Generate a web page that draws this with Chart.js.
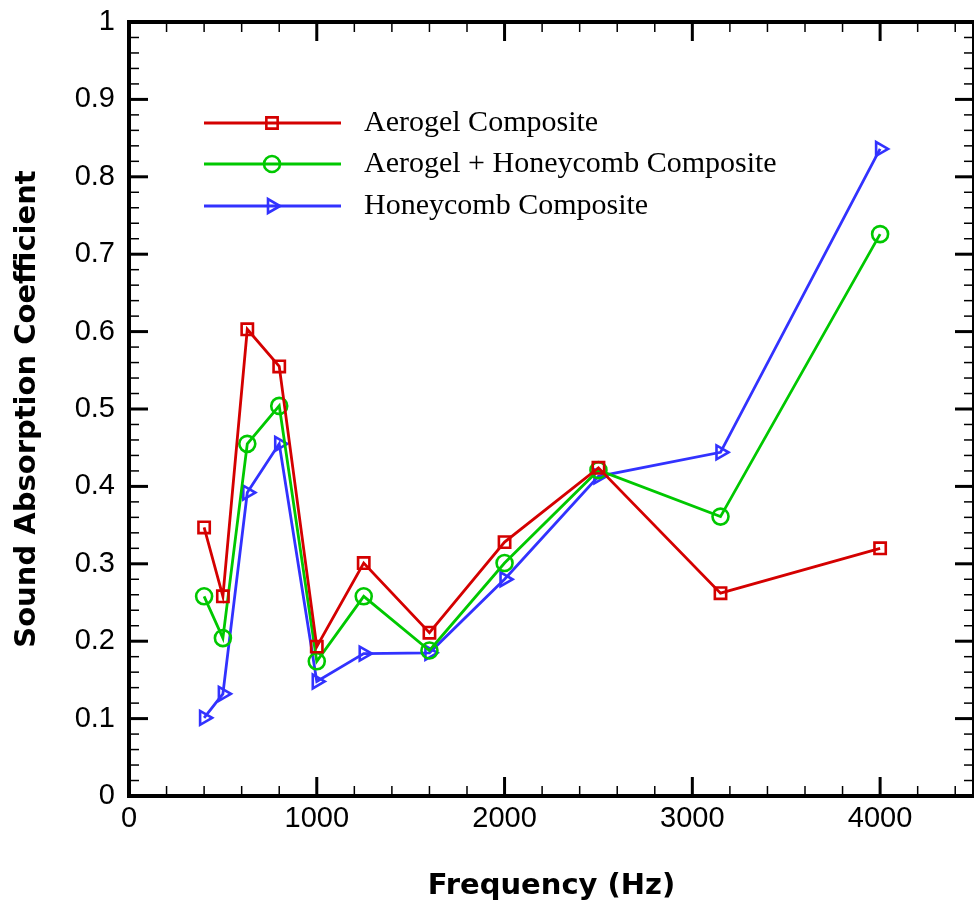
<!DOCTYPE html>
<html>
<head>
<meta charset="utf-8">
<title>Sound Absorption Coefficient</title>
<script src="https://cdn.jsdelivr.net/npm/chart.js@4.4.1/dist/chart.umd.min.js"></script>
<style>
  html, body { margin: 0; padding: 0; background: #fff; }
  canvas { display: block; }
</style>
</head>
<body>
<canvas id="myChart" width="974" height="909"></canvas>
<script>
  // one-third octave band centres (Hz)
  const frequencies = [400, 500, 630, 800, 1000, 1250, 1600, 2000, 2500, 3150, 4000];

  const aerogel   = [0.347, 0.258, 0.603, 0.555, 0.193, 0.301, 0.211, 0.328, 0.424, 0.262, 0.320];
  const combined  = [0.258, 0.204, 0.455, 0.504, 0.174, 0.258, 0.188, 0.301, 0.421, 0.361, 0.726];
  const honeycomb = [0.101, 0.132, 0.392, 0.455, 0.148, 0.184, 0.185, 0.280, 0.413, 0.444, 0.836];

  const seriesNames = ['Aerogel Composite', 'Aerogel + Honeycomb Composite', 'Honeycomb Composite'];

  const xTickValues = [0, 1000, 2000, 3000, 4000];
  const yTickValues = [0, 0.1, 0.2, 0.3, 0.4, 0.5, 0.6, 0.7, 0.8, 0.9, 1];

  const xMax = 4500, xMajor = 1000, xMinor = 200;
  const yMax = 1, yMajor = 0.1, yMinor = 0.02;

  function toPoints(values) {
    return frequencies.map((f, i) => ({ x: f, y: values[i] }));
  }

  function series(label, values, color, style, rotation) {
    return {
      label: label,
      data: toPoints(values),
      borderColor: color,
      backgroundColor: 'rgba(0,0,0,0)',
      borderWidth: 2.8,
      pointStyle: style,
      pointRotation: rotation,
      pointRadius: 8,
      pointBorderWidth: 2.6,
      pointBackgroundColor: 'rgba(0,0,0,0)',
      tension: 0
    };
  }

  // boxed frame with inward ticks on all four sides
  const frame = {
    id: 'frame',
    beforeDatasetsDraw(chart) {
      const { ctx, chartArea: a, scales: { x, y } } = chart;
      ctx.save();
      ctx.strokeStyle = '#000';
      ctx.lineCap = 'butt';

      const tick = (x1, y1, x2, y2, w) => {
        ctx.lineWidth = w;
        ctx.beginPath();
        ctx.moveTo(x1, y1);
        ctx.lineTo(x2, y2);
        ctx.stroke();
      };

      for (let v = xMinor; v < xMax; v += xMinor) {
        const px = x.getPixelForValue(v);
        const major = v % xMajor === 0;
        const len = major ? 19 : 10;
        const w = major ? 3 : 1.5;
        tick(px, a.bottom, px, a.bottom - len, w);
        tick(px, a.top, px, a.top + len, w);
      }
      const perMajor = Math.round(yMajor / yMinor);
      for (let k = 1; k < Math.round(yMax / yMinor); k++) {
        const py = y.getPixelForValue(k * yMinor);
        const major = k % perMajor === 0;
        const len = major ? 19 : 10;
        const w = major ? 3 : 1.5;
        tick(a.left, py, a.left + len, py, w);
        tick(a.right, py, a.right - len, py, w);
      }

      ctx.lineWidth = 4;
      ctx.strokeRect(a.left, a.top, a.right - a.left, a.bottom - a.top);
      ctx.restore();
    }
  };

  // legend box drawn inside the plot, upper left
  const insideLegend = {
    id: 'insideLegend',
    afterDraw(chart) {
      const { ctx } = chart;
      const rows = [123, 164, 206];
      ctx.save();
      chart.data.datasets.forEach((ds, i) => {
        const yy = rows[i];
        ctx.strokeStyle = ds.borderColor;
        ctx.lineWidth = ds.borderWidth;
        ctx.beginPath();
        ctx.moveTo(204, yy);
        ctx.lineTo(341, yy);
        ctx.stroke();

        ctx.fillStyle = 'rgba(0,0,0,0)';
        ctx.lineWidth = ds.pointBorderWidth;
        Chart.helpers.drawPoint(ctx, {
          pointStyle: ds.pointStyle,
          rotation: ds.pointRotation,
          radius: ds.pointRadius,
          borderWidth: ds.pointBorderWidth
        }, 272, yy);

        ctx.fillStyle = '#000';
        ctx.font = '30px "Liberation Serif", "Times New Roman", serif';
        ctx.textAlign = 'left';
        ctx.textBaseline = 'middle';
        ctx.fillText(ds.label, 364, yy);
      });
      ctx.restore();
    }
  };

  const tickFont = { family: '"Liberation Sans", Arial, sans-serif', size: 29 };
  const titleFont = { family: '"DejaVu Sans", sans-serif', size: 29, weight: 'bold' };

  const ctx = document.getElementById('myChart').getContext('2d');
  new Chart(ctx, {
    type: 'line',
    data: {
      datasets: [
        series(seriesNames[0], aerogel, '#d40000', 'rect', 0),
        series(seriesNames[1], combined, '#00c800', 'circle', 0),
        series(seriesNames[2], honeycomb, '#3232ff', 'triangle', 90)
      ]
    },
    options: {
      responsive: false,
      animation: false,
      devicePixelRatio: 1,
      layout: { autoPadding: false, padding: { top: 22, right: -2, bottom: 0, left: 0 } },
      plugins: {
        legend: { display: false },
        tooltip: { enabled: false }
      },
      scales: {
        x: {
          type: 'linear',
          min: 0,
          max: xMax,
          afterBuildTicks: s => { s.ticks = xTickValues.map(v => ({ value: v })); },
          grid: { display: false, drawTicks: false, tickLength: 0 },
          border: { display: false },
          ticks: {
            maxRotation: 0,
            autoSkip: false,
            padding: 6,
            color: '#000',
            font: tickFont,
            callback: v => String(v)
          },
          title: {
            display: true,
            text: 'Frequency (Hz)',
            color: '#000',
            font: titleFont,
            padding: { top: 0, bottom: 5 }
          },
          afterFit: s => {
            s.height = 113;
            s.paddingLeft = 0;
            s.paddingRight = -2;
          }
        },
        y: {
          min: 0,
          max: yMax,
          afterBuildTicks: s => { s.ticks = yTickValues.map(v => ({ value: v })); },
          grid: { display: false, drawTicks: false, tickLength: 0 },
          border: { display: false },
          ticks: {
            padding: 14,
            autoSkip: false,
            color: '#000',
            font: tickFont,
            callback: v => String(Number(v.toFixed(1)))
          },
          title: {
            display: true,
            text: 'Sound Absorption Coefficient',
            color: '#000',
            font: titleFont,
            padding: { top: 10, bottom: 0 }
          },
          afterFit: s => {
            s.width = 129;
            s.paddingTop = 0;
            s.paddingBottom = 0;
            s.paddingRight = -2;
          }
        }
      }
    },
    plugins: [frame, insideLegend]
  });
</script>
</body>
</html>
